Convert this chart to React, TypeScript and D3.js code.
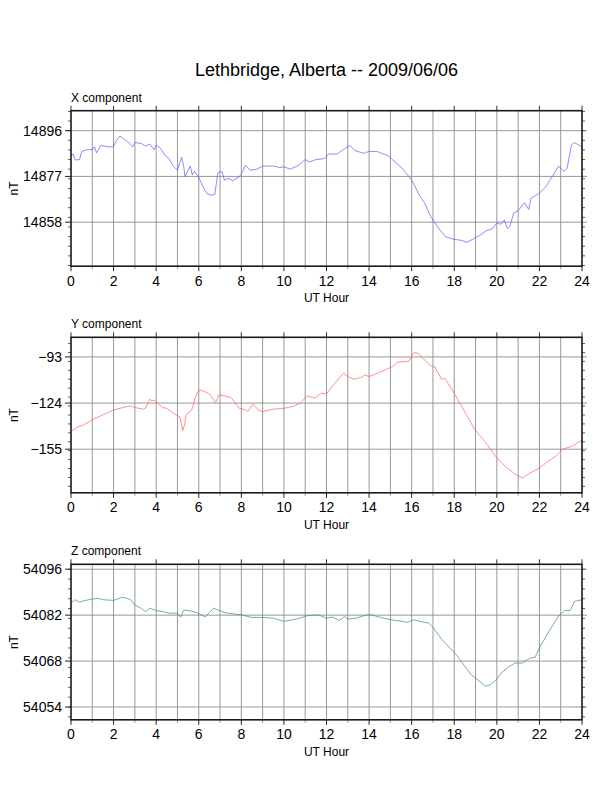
import * as React from 'react'
import { useEffect, useRef } from 'react'
import * as d3 from 'd3'

// UT hour / nT readings, Lethbridge 2009/06/06
const xHours = [0, 0.1, 0.2, 0.4, 0.5, 0.7, 1.0, 1.1, 1.2, 1.4, 1.7, 2.0, 2.1, 2.3, 2.5, 2.7, 2.9, 3.0, 3.3, 3.5, 3.7, 3.9, 4.0, 4.2, 4.4, 4.6, 4.8, 5.0, 5.1, 5.2, 5.3, 5.35, 5.5, 5.6, 5.7, 5.8, 6.0, 6.2, 6.4, 6.6, 6.75, 6.9, 7.1, 7.2, 7.4, 7.6, 7.9, 8.0, 8.2, 8.4, 8.7, 9.0, 9.5, 9.8, 10.0, 10.3, 10.7, 11.0, 11.2, 11.5, 11.9, 12.1, 12.5, 12.8, 13.1, 13.35, 13.75, 14.0, 14.4, 14.9, 15.3, 15.6, 16.0, 16.4, 16.6, 16.9, 17.3, 17.6, 18.0, 18.3, 18.6, 18.9, 19.2, 19.5, 19.8, 20.0, 20.2, 20.35, 20.5, 20.6, 20.8, 21.0, 21.3, 21.5, 21.6, 22.0, 22.3, 22.6, 22.9, 23.15, 23.3, 23.5, 23.65, 24.0]
const xValues = [14885.5, 14886.3, 14883.8, 14884, 14887.3, 14888, 14888.2, 14889.3, 14886.8, 14889.9, 14889.3, 14889.3, 14891.4, 14893.8, 14892.4, 14891.3, 14889.3, 14891, 14890.7, 14889.6, 14890.5, 14888, 14890, 14888.7, 14885.9, 14884.5, 14881.3, 14879.6, 14882.4, 14884.9, 14880.8, 14876.9, 14879.6, 14881.3, 14877.6, 14879.2, 14876.6, 14872.7, 14869.7, 14869.2, 14869.5, 14878.5, 14879, 14875.5, 14876.2, 14875.2, 14876.9, 14878, 14881.7, 14879.6, 14879.9, 14881.3, 14881.3, 14880.7, 14881, 14880, 14881.7, 14884, 14883, 14884, 14884.4, 14886.3, 14886.3, 14888.2, 14889.8, 14887.7, 14886.6, 14887.4, 14887.3, 14885.5, 14882.4, 14879.9, 14875.5, 14868.6, 14866.1, 14860.2, 14855, 14851.9, 14850.8, 14850.5, 14849.6, 14851.1, 14852.5, 14854.4, 14855.3, 14857.7, 14857.1, 14858.9, 14855.4, 14856, 14861.9, 14862.7, 14866.1, 14863.3, 14867.9, 14870, 14872.7, 14876.9, 14881.3, 14879, 14880.4, 14890, 14891, 14889.3]

const yHours = [0, 0.3, 0.6, 1.0, 1.5, 2.0, 2.5, 2.8, 3.0, 3.4, 3.5, 3.7, 3.8, 3.9, 4.1, 4.3, 4.5, 4.8, 5.0, 5.1, 5.2, 5.25, 5.35, 5.4, 5.6, 5.7, 5.85, 6.0, 6.2, 6.5, 6.8, 6.95, 7.2, 7.5, 7.7, 7.9, 8.2, 8.3, 8.55, 8.8, 9.0, 9.5, 10.0, 10.4, 10.76, 11.1, 11.45, 11.75, 12.0, 12.25, 12.55, 12.8, 13.0, 13.3, 13.65, 13.8, 14.0, 14.4, 14.75, 15.15, 15.3, 15.6, 15.85, 16.1, 16.3, 16.6, 16.9, 17.1, 17.4, 17.55, 17.95, 18.4, 18.95, 19.5, 19.95, 20.4, 20.9, 21.2, 21.5, 22.0, 22.4, 22.8, 23.1, 23.5, 24.0]
const yValues = [-143.1, -140.2, -138.6, -135.3, -131.9, -128.6, -126.8, -125.9, -127, -128.1, -127.4, -121.4, -122.5, -121.9, -124.5, -127, -127.5, -130.8, -132.6, -133, -138.6, -142.4, -137.5, -131.9, -129.7, -127.5, -119.6, -115.1, -115.8, -117.8, -123.6, -118.5, -119.2, -120.1, -123.6, -127.5, -128.6, -129.7, -124.5, -128.6, -129.7, -128.1, -127.5, -126.4, -124.1, -119.2, -120.7, -117.4, -117.8, -112.9, -108, -104, -106.2, -108, -106.6, -105.1, -106.2, -104, -101.7, -99, -96.8, -96.1, -96.1, -90.1, -90.5, -95, -99, -99.9, -108, -107.3, -116.3, -127.5, -141.5, -150.9, -159.9, -166.6, -172.2, -174.4, -171.5, -167.7, -163.2, -159.4, -154.9, -153.2, -149]

const zHours = [0, 0.2, 0.4, 0.6, 1.0, 1.3, 1.5, 2.0, 2.4, 2.6, 2.8, 3.0, 3.3, 3.5, 3.7, 4.0, 4.3, 4.6, 5.0, 5.15, 5.3, 5.6, 5.9, 6.2, 6.3, 6.5, 6.7, 6.9, 7.2, 7.6, 8.0, 8.5, 9.0, 9.5, 10.0, 10.4, 10.76, 11.07, 11.6, 12.0, 12.3, 12.6, 12.85, 13.0, 13.4, 13.9, 14.1, 14.5, 15.0, 15.45, 15.8, 16.1, 16.4, 16.8, 17.0, 17.4, 17.8, 18.1, 18.5, 18.8, 19.2, 19.45, 19.7, 20.0, 20.2, 20.55, 20.85, 21.2, 21.55, 21.8, 22.0, 22.35, 22.65, 22.95, 23.2, 23.45, 23.65, 24.0]
const zValues = [54085.7, 54086.7, 54085.9, 54086.4, 54086.9, 54087.1, 54086.7, 54086.5, 54087.4, 54087.2, 54086.7, 54085.1, 54084.1, 54083.1, 54084.1, 54083.4, 54083.1, 54082.6, 54082.6, 54081.4, 54083.6, 54083.3, 54082.8, 54081.8, 54081.4, 54082.8, 54084.1, 54083.6, 54082.8, 54082.4, 54082.1, 54081.3, 54081.3, 54081.1, 54080.1, 54080.6, 54081.1, 54081.8, 54082.1, 54081.1, 54081.4, 54080.4, 54081.6, 54080.8, 54081.1, 54082.1, 54082.1, 54081.4, 54080.6, 54080.2, 54079.8, 54080.6, 54080.1, 54079.6, 54078.3, 54074.7, 54072, 54069.9, 54066.4, 54063.8, 54061.8, 54060.3, 54060.8, 54062.5, 54064.3, 54066.2, 54067.4, 54067.4, 54068.9, 54069.2, 54072, 54076, 54079.1, 54082.1, 54083.4, 54083.4, 54086.2, 54086.7]

const hourTicks = d3.range(0, 25, 2)

interface Panel {
  label: string
  hours: number[]
  values: number[]
  domain: [number, number]
  major: number
  minor: number
  color: string
  top: number
}

const panels: Panel[] = [
  { label: 'X component', hours: xHours, values: xValues, domain: [14839.7, 14904.3], major: 19, minor: 4, color: '#5a5aff', top: 110.7 },
  { label: 'Y component', hours: yHours, values: yValues, domain: [-184.3, -79.8], major: 31, minor: 6, color: '#ff6060', top: 337.3 },
  { label: 'Z component', hours: zHours, values: zValues, domain: [54050.1, 54097.5], major: 14, minor: 3, color: '#3f9066', top: 564.3 },
]

const W = 612
const H = 792
const left = 71
const right = 582
const ph = 155.5
const font = 'Helvetica, "Liberation Sans", Arial, sans-serif'

const multiples = (d: [number, number], step: number) =>
  d3.range(Math.ceil(d[0] / step) * step, d[1] + 1e-9, step)

export default function App() {
  const ref = useRef<SVGSVGElement | null>(null)

  useEffect(() => {
    const svg = d3.select(ref.current)
    svg.selectAll('*').remove()

    svg.append('text')
      .attr('x', 326.5).attr('y', 76)
      .attr('text-anchor', 'middle')
      .attr('font-family', font).attr('font-size', 18)
      .text('Lethbridge, Alberta -- 2009/06/06')

    const x = d3.scaleLinear().domain([0, 24]).range([left, right])

    panels.forEach(p => {
      const top = p.top
      const bottom = top + ph
      const y = d3.scaleLinear().domain(p.domain).range([bottom, top])
      const g = svg.append('g')

      // grid
      g.selectAll('.vg').data(d3.range(1, 24)).enter().append('line')
        .attr('x1', d => x(d)).attr('x2', d => x(d))
        .attr('y1', top).attr('y2', bottom)
        .attr('stroke', '#8c8c8c').attr('stroke-width', 0.9)
      const majors = multiples(p.domain, p.major)
      g.selectAll('.hg').data(majors).enter().append('line')
        .attr('x1', left).attr('x2', right + 5)
        .attr('y1', d => y(d)).attr('y2', d => y(d))
        .attr('stroke', '#8c8c8c').attr('stroke-width', 0.9)

      // minor ticks left & right
      const minors = multiples(p.domain, p.minor)
      g.selectAll('.ml').data(minors).enter().append('line')
        .attr('x1', left - 3).attr('x2', left)
        .attr('y1', d => y(d)).attr('y2', d => y(d))
        .attr('stroke', '#333').attr('stroke-width', 0.8)
      g.selectAll('.mr').data(minors).enter().append('line')
        .attr('x1', right).attr('x2', right + 3)
        .attr('y1', d => y(d)).attr('y2', d => y(d))
        .attr('stroke', '#333').attr('stroke-width', 0.8)
      g.selectAll('.Ml').data(majors).enter().append('line')
        .attr('x1', left - 6).attr('x2', left)
        .attr('y1', d => y(d)).attr('y2', d => y(d))
        .attr('stroke', '#222').attr('stroke-width', 1)

      // hour ticks bottom & top
      g.selectAll('.bt').data(d3.range(0, 25)).enter().append('line')
        .attr('x1', d => x(d)).attr('x2', d => x(d))
        .attr('y1', bottom).attr('y2', d => bottom + (d % 2 === 0 ? 5 : 3))
        .attr('stroke', d => d % 2 === 0 ? '#222' : '#999').attr('stroke-width', 1)
      g.selectAll('.tt').data(hourTicks).enter().append('line')
        .attr('x1', d => x(d)).attr('x2', d => x(d))
        .attr('y1', top - 5).attr('y2', top)
        .attr('stroke', '#333').attr('stroke-width', 1)

      // data line
      const line = d3.line<number>()
        .x((_, i) => x(p.hours[i]))
        .y(d => y(d))
      g.append('path')
        .datum(p.values)
        .attr('d', line)
        .attr('fill', 'none')
        .attr('stroke', p.color)
        .attr('stroke-width', 0.7)

      // frame
      g.append('rect')
        .attr('x', left).attr('y', top)
        .attr('width', right - left).attr('height', ph)
        .attr('fill', 'none').attr('stroke', '#1a1a1a').attr('stroke-width', 1.6)

      // labels
      g.selectAll('.yl').data(majors).enter().append('text')
        .attr('x', left - 9).attr('y', d => y(d) + 5)
        .attr('text-anchor', 'end')
        .attr('font-family', font).attr('font-size', 14)
        .text(d => d3.format('d')(d))
      g.selectAll('.xl').data(hourTicks).enter().append('text')
        .attr('x', d => x(d)).attr('y', bottom + 19.5)
        .attr('text-anchor', 'middle')
        .attr('font-family', font).attr('font-size', 14)
        .text(d => String(d))
      g.append('text')
        .attr('x', (left + right) / 2).attr('y', bottom + 36)
        .attr('text-anchor', 'middle')
        .attr('font-family', font).attr('font-size', 12)
        .text('UT Hour')
      g.append('text')
        .attr('transform', `translate(17.5, ${(top + bottom) / 2}) rotate(-90)`)
        .attr('text-anchor', 'middle')
        .attr('font-family', font).attr('font-size', 12)
        .text('nT')
      g.append('text')
        .attr('x', left).attr('y', top - 9)
        .attr('font-family', font).attr('font-size', 12)
        .text(p.label)
    })
  }, [])

  return (
    <svg ref={ref} width={W} height={H}
      style={{ position: 'absolute', left: 0, top: 0, background: '#fff' }} />
  )
}
